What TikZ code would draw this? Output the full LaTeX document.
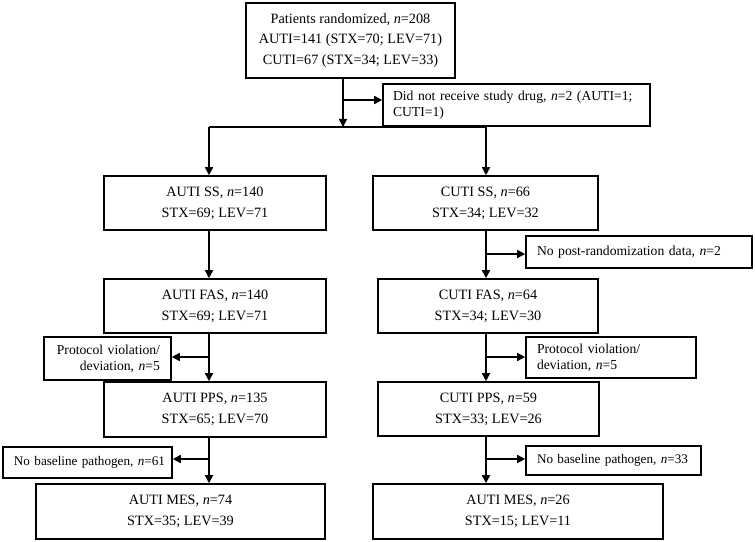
\documentclass[tikz,border=0pt]{standalone}
\usepackage{fontspec}
\setmainfont{Liberation Serif}
\usetikzlibrary{arrows.meta}
\tikzset{
  box/.style={draw, line width=1.6bp, inner sep=0pt, align=center,
    font=\fontsize{14.3}{21}\selectfont},
  sidebox/.style={draw, line width=1.6bp, inner ysep=0pt, inner xsep=8bp,
    font=\fontsize{13.7}{16}\selectfont},
  conn/.style={line width=1.6bp},
  arr/.style={line width=1.6bp, -{Triangle[length=8bp,width=8bp]}}
}
\newcommand{\nn}{\textit{n}}
\begin{document}
\begin{tikzpicture}[x=1bp,y=-1bp]
\useasboundingbox (0,0) rectangle (755,542);
% main boxes
\node[box, minimum width=209bp, minimum height=75bp] (top) at (350.5,40.5)
  {Patients randomized, \nn=208\\AUTI=141 (STX=70; LEV=71)\\CUTI=67 (STX=34; LEV=33)};
\node[box, minimum width=222bp, minimum height=54bp] (ssa) at (215,203)
  {AUTI SS, \nn=140\\STX=69; LEV=71};
\node[box, minimum width=225bp, minimum height=54bp] (ssc) at (485.5,203)
  {CUTI SS, \nn=66\\STX=34; LEV=32};
\node[box, minimum width=222bp, minimum height=54bp] (fasa) at (215,306)
  {AUTI FAS, \nn=140\\STX=69; LEV=71};
\node[box, minimum width=220bp, minimum height=54bp] (fasc) at (488,306)
  {CUTI FAS, \nn=64\\STX=34; LEV=30};
\node[box, minimum width=222bp, minimum height=55bp] (ppsa) at (215,409.5)
  {AUTI PPS, \nn=135\\STX=65; LEV=70};
\node[box, minimum width=221bp, minimum height=54bp] (ppsc) at (488.5,409)
  {CUTI PPS, \nn=59\\STX=33; LEV=26};
\node[box, minimum width=289bp, minimum height=55bp] (mesa) at (180.5,511.5)
  {AUTI MES, \nn=74\\STX=35; LEV=39};
\node[box, minimum width=290bp, minimum height=55bp] (mesc) at (518,511.5)
  {AUTI MES, \nn=26\\STX=15; LEV=11};
% side boxes
\node[sidebox, inner xsep=10bp, text width=247bp, align=left, minimum height=42bp] (drug) at (516.5,105)
  {Did not receive study drug, \nn=2 (AUTI=1;\\CUTI=1)};
\node[sidebox, inner xsep=11bp, text width=204bp, align=left, minimum height=32bp] (nopost) at (639,252)
  {\mbox{No post-randomization data, \nn=2}};
\node[sidebox, inner xsep=11bp, text width=105bp, align=right, minimum height=43bp] (protl) at (107.5,358.5)
  {Protocol violation/\\deviation, \nn=5};
\node[sidebox, inner xsep=11bp, text width=148bp, align=left, minimum height=41bp] (protr) at (611,357.5)
  {Protocol violation/\\deviation, \nn=5};
\node[sidebox, inner xsep=11bp, text width=147bp, align=right, minimum height=31bp,
  font=\fontsize{13.2}{16}\selectfont] (nobl) at (87.5,462.5)
  {\mbox{No baseline pathogen, \nn=61}};
\node[sidebox, inner xsep=11bp, text width=153bp, align=left, minimum height=29bp,
  font=\fontsize{13.2}{16}\selectfont] (nobr) at (613.5,460.5)
  {\mbox{No baseline pathogen, \nn=33}};
% junction coordinates
\coordinate (j0) at (343,127);
\coordinate (j1) at (343,100);
\coordinate (hl) at (209,127);
\coordinate (hr) at (486,127);
\coordinate (cr1) at (486,254);
\coordinate (cl2) at (209,357);
\coordinate (cr2) at (486,357);
\coordinate (cl3) at (209,459);
\coordinate (cr3) at (486,459);
% connectors
\draw[arr] (top.south -| j0) -- (j0);
\draw[arr] (j1) -- (drug.west |- j1);
\draw[conn] (hl) -- (hr);
\draw[arr] (hl) -- (ssa.north -| hl);
\draw[arr] (hr) -- (ssc.north -| hr);
\draw[arr] (ssa.south -| hl) -- (fasa.north -| hl);
\draw[arr] (ssc.south -| hr) -- (fasc.north -| hr);
\draw[arr] (cr1) -- (nopost.west |- cr1);
\draw[arr] (fasa.south -| hl) -- (ppsa.north -| hl);
\draw[arr] (cl2) -- (protl.east |- cl2);
\draw[arr] (fasc.south -| hr) -- (ppsc.north -| hr);
\draw[arr] (cr2) -- (protr.west |- cr2);
\draw[arr] (ppsa.south -| hl) -- (mesa.north -| hl);
\draw[arr] (cl3) -- (nobl.east |- cl3);
\draw[arr] (ppsc.south -| hr) -- (mesc.north -| hr);
\draw[arr] (cr3) -- (nobr.west |- cr3);
\end{tikzpicture}
\end{document}
